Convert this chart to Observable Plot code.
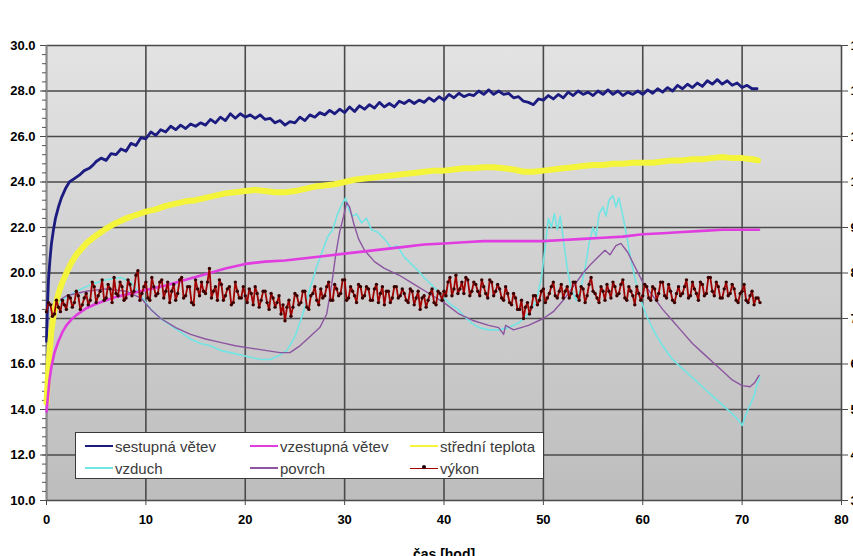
<!DOCTYPE html>
<html><head><meta charset="utf-8">
<script src="https://cdn.jsdelivr.net/npm/d3@7"></script>
<script src="https://cdn.jsdelivr.net/npm/@observablehq/plot@0.6"></script>
<style>
body{margin:0;background:#fff;}
#wrap{position:relative;width:853px;height:556px;overflow:hidden;}
.legend{position:absolute;left:75px;top:432px;width:467px;height:45px;background:#fff;border:1.5px solid #3a3a3a;font-family:"Liberation Sans",Arial,sans-serif;font-size:15px;color:#3a3a3a;}
.item{position:absolute;display:flex;align-items:center;white-space:nowrap;height:18px;}
.sw{width:28px;height:0;border-top:2.5px solid;margin-right:2px;position:relative;}
.dot{position:absolute;left:12px;top:-3.5px;width:4px;height:4px;border-radius:50%;background:#200000;}
</style>
</head><body>
<div id="wrap"></div>
<script>
// ---- data ----
const xTicks = [0, 10, 20, 30, 40, 50, 60, 70, 80];
const yTicks = [10, 12, 14, 16, 18, 20, 22, 24, 26, 28, 30];
const powerTicks = [3, 4, 5, 6, 7, 8, 9, 10, 11, 12, 13];

// sestupná větev: early part as [hod, °C]
const sestupnaEarly = [[0,17.0],[0.1,18.6],[0.2,19.7],[0.35,20.6],[0.5,21.3],[0.7,21.9],[0.9,22.4],[1.2,22.9],[1.5,23.3],[1.9,23.7],[2.3,24.0],[2.8,24.15],[3.3,24.3],[3.8,24.5],[4.3,24.6],[4.7,24.75]];
// sestupná větev: from 5 h, every 0.5 h
const sestupnaStart = 5, sestupnaStep = 0.5;
const sestupnaVals = [24.9,25.05,24.95,25.25,25.2,25.45,25.35,25.7,25.6,25.95,25.9,26.2,26.05,26.3,26.2,26.45,26.3,26.5,26.35,26.55,26.45,26.6,26.5,26.75,26.6,26.85,26.7,27.0,26.8,27.0,26.85,26.95,26.8,26.95,26.75,26.8,26.6,26.7,26.5,26.65,26.6,26.85,26.7,26.95,26.85,27.05,26.95,27.15,27.0,27.2,27.05,27.3,27.1,27.35,27.2,27.4,27.25,27.5,27.3,27.45,27.3,27.55,27.45,27.6,27.45,27.6,27.5,27.7,27.55,27.75,27.6,27.85,27.7,27.9,27.75,27.85,27.8,28.0,27.85,28.05,27.85,28.0,27.85,27.9,27.7,27.75,27.55,27.5,27.4,27.65,27.6,27.8,27.65,27.85,27.7,27.95,27.8,28.0,27.85,27.95,27.8,28.0,27.85,28.05,27.85,28.0,27.8,27.95,27.85,28.0,27.85,28.05,27.9,28.1,27.95,28.15,28.0,28.25,28.1,28.3,28.15,28.35,28.2,28.45,28.3,28.5,28.3,28.45,28.25,28.35,28.15,28.25,28.1,28.1];

const vzestupna = [[0,13.9],[0.15,14.6],[0.3,15.3],[0.5,15.9],[0.8,16.5],[1.2,17.0],[1.6,17.4],[2,17.7],[2.5,17.95],[3,18.15],[4,18.45],[5,18.65],[6,18.8],[7,18.95],[8,19.05],[9,19.15],[10,19.25],[12,19.45],[14,19.7],[16,19.95],[18,20.2],[20,20.4],[22,20.5],[24,20.55],[26,20.65],[28,20.75],[30,20.85],[32,20.95],[34,21.05],[36,21.15],[38,21.25],[40,21.3],[42,21.35],[44,21.4],[46,21.4],[48,21.4],[50,21.4],[52,21.45],[54,21.5],[56,21.55],[58,21.6],[60,21.7],[62,21.75],[64,21.8],[66,21.85],[68,21.9],[70,21.9],[71.7,21.9]];

const stredni = [[0,14.3],[0.15,15.5],[0.3,16.5],[0.5,17.5],[0.8,18.4],[1.2,19.1],[1.6,19.6],[2,20.0],[2.5,20.45],[3,20.8],[4,21.3],[5,21.65],[6,21.95],[7,22.2],[8,22.4],[9,22.55],[10,22.7],[11,22.8],[12,22.95],[13,23.05],[14,23.15],[15,23.2],[16,23.3],[17,23.4],[18,23.5],[19,23.55],[20,23.6],[21,23.65],[22,23.6],[23,23.55],[24,23.55],[25,23.6],[26,23.7],[27,23.8],[28,23.85],[29,23.9],[30,24.0],[31,24.1],[32,24.15],[33,24.2],[34,24.25],[35,24.3],[36,24.35],[37,24.4],[38,24.45],[39,24.5],[40,24.5],[41,24.55],[42,24.6],[43,24.6],[44,24.65],[45,24.65],[46,24.6],[47,24.55],[48,24.45],[49,24.45],[50,24.5],[51,24.55],[52,24.6],[53,24.65],[54,24.7],[55,24.75],[56,24.75],[57,24.8],[58,24.8],[59,24.85],[60,24.85],[61,24.85],[62,24.9],[63,24.95],[64,24.95],[65,25.0],[66,25.0],[67,25.05],[68,25.1],[69,25.05],[70,25.05],[71,25.0],[71.6,24.95]];

const vzduch = [[0.5,18.3],[1.5,18.8],[3,19.2],[4.5,19.5],[6,19.7],[7.5,19.8],[8.5,19.6],[9.5,19.0],[10.5,18.4],[11.5,18.0],[12.5,17.7],[13.5,17.4],[14.5,17.1],[15.5,16.9],[16.5,16.8],[17.5,16.6],[18.5,16.5],[19.5,16.4],[20.5,16.3],[21.5,16.2],[22.5,16.2],[23.5,16.4],[24.2,16.6],[25,17.2],[25.8,18.2],[26.5,19.3],[27.2,20.3],[27.8,21.0],[28.3,21.6],[28.8,21.9],[29.3,22.6],[29.7,23.0],[30.1,23.3],[30.4,22.8],[30.8,22.5],[31.2,22.6],[31.7,22.2],[32.2,22.4],[32.7,21.9],[33.3,21.8],[34,21.5],[34.7,21.1],[35.3,21.2],[36,20.7],[36.7,20.4],[37.4,20.1],[38,19.8],[38.7,19.5],[39.4,19.2],[40,18.9],[40.7,18.6],[41.4,18.4],[42,18.1],[42.8,17.8],[43.5,17.6],[44.5,17.5],[45.5,17.5],[46.5,17.6],[47.5,17.8],[48.5,18.2],[49.3,18.8],[49.8,19.8],[50.2,21.2],[50.5,22.4],[50.8,22.0],[51.1,22.6],[51.4,21.9],[51.7,22.5],[52.0,21.5],[52.4,20.2],[52.8,19.3],[53.3,18.8],[53.8,19.4],[54.2,20.2],[54.6,21.3],[55,22.0],[55.3,21.6],[55.6,22.6],[56,22.9],[56.3,22.5],[56.6,23.2],[57,23.4],[57.3,22.9],[57.6,23.3],[58,22.5],[58.4,21.6],[58.8,20.6],[59.3,19.6],[59.8,18.8],[60.5,18.0],[61.3,17.3],[62,16.8],[63,16.2],[64,15.8],[65,15.4],[66,15.0],[67,14.6],[68,14.2],[68.8,13.9],[69.5,13.6],[70,13.3],[70.4,13.8],[70.8,14.2],[71.2,14.6],[71.5,15.1],[71.8,15.4]];

const povrch = [[0.5,18.6],[2,19.0],[4,19.2],[6,19.3],[8,19.2],[9.5,18.9],[10.5,18.4],[11.5,18.0],[13,17.6],[14.5,17.3],[16,17.1],[17.5,16.95],[19,16.8],[20.5,16.7],[22,16.6],[23.5,16.5],[24.5,16.5],[25.5,16.8],[26.5,17.2],[27.5,17.6],[28.2,18.2],[28.7,19.5],[29.1,20.8],[29.5,21.8],[29.9,22.5],[30.2,23.1],[30.5,22.9],[30.9,22.2],[31.4,21.5],[32,21.0],[33,20.5],[34,20.2],[35.5,19.9],[37,19.5],[38.5,19.1],[40,18.7],[41.5,18.2],[43,17.9],[44.5,17.7],[45.5,17.6],[46,17.3],[46.2,17.7],[47,17.5],[48.5,17.7],[50,18.0],[51,18.3],[52,18.8],[53,19.4],[54,20.0],[54.8,20.4],[55.5,20.7],[56.2,21.0],[56.7,20.8],[57.3,21.2],[57.8,21.3],[58.5,20.9],[59.3,20.2],[60,19.6],[61,19.0],[62,18.4],[63,17.9],[64,17.4],[65,16.9],[66,16.5],[67,16.1],[68,15.7],[69,15.3],[70,15.05],[70.8,15.0],[71.3,15.2],[71.7,15.5]];

// výkon (right axis units): samples A at 0, 0.4, 0.8 … h; samples B at 0.2, 0.6, 1.0 … h
const vykonStep = 0.4;
const vykonA = [
7.15,7.3,7.1,7.25,7.4,7.2,7.45,7.35,7.5,7.3,
7.55,7.4,7.7,7.5,7.85,7.45,7.65,7.9,7.5,7.7,
7.45,7.75,7.6,8.05,7.55,7.8,7.4,7.7,7.55,7.85,
7.6,7.35,7.75,7.55,7.9,7.5,7.7,7.3,7.65,7.8,
7.55,8.1,7.6,7.4,7.75,7.5,7.7,7.35,7.6,7.45,
7.5,7.65,7.3,7.55,7.4,7.6,7.2,7.45,7.35,7.1,
6.95,7.4,7.25,7.5,7.35,7.6,7.2,7.55,7.4,7.65,
7.5,7.8,7.4,7.65,7.55,7.85,7.45,7.6,7.35,7.7,
7.5,7.65,7.4,7.75,7.55,7.3,7.6,7.45,7.7,7.5,
7.55,7.35,7.6,7.45,7.2,7.5,7.4,7.65,7.3,7.55,
7.6,7.8,7.5,7.95,7.65,7.55,7.85,7.6,7.75,7.5,
7.7,7.45,7.8,7.6,7.65,7.4,7.55,7.3,7.45,7.2,
7.0,7.35,7.25,7.5,7.4,7.65,7.45,7.7,7.5,7.6,
7.45,7.7,7.55,7.8,7.4,7.65,7.5,7.9,7.55,7.35,
7.6,7.75,7.45,7.7,7.55,7.85,7.4,7.6,7.3,7.55,
7.5,7.7,7.4,7.65,7.55,7.8,7.45,7.6,7.35,7.7,
7.55,7.85,7.5,7.65,7.4,7.75,7.55,7.9,7.5,7.7,
7.45,7.8,7.55,7.65,7.35,7.6,7.4,7.5,7.3,7.45];
const vykonB = [
7.35,7.05,7.4,7.15,7.3,7.5,7.25,7.6,7.2,7.45,
7.3,7.8,7.35,7.6,7.4,7.75,7.35,7.55,7.8,7.4,
7.85,7.5,7.95,7.4,7.7,7.45,7.9,7.5,7.8,7.45,
7.8,7.6,7.4,7.85,7.45,7.7,7.35,7.85,7.5,7.6,
7.8,7.45,7.7,7.85,7.4,7.65,7.3,7.8,7.45,7.7,
7.35,7.55,7.7,7.25,7.6,7.35,7.55,7.25,7.5,7.3,
7.25,7.05,7.55,7.3,7.6,7.25,7.5,7.7,7.3,7.45,
7.7,7.4,7.75,7.5,7.85,7.4,7.7,7.5,7.75,7.45,
7.7,7.4,7.65,7.35,7.7,7.6,7.35,7.7,7.45,7.65,
7.4,7.65,7.3,7.6,7.45,7.25,7.55,7.35,7.6,7.4,
7.5,7.9,7.65,7.55,7.8,7.9,7.5,7.8,7.6,7.85,
7.55,7.85,7.5,7.75,7.45,7.7,7.35,7.55,7.2,7.4,
7.25,7.1,7.5,7.3,7.6,7.35,7.55,7.8,7.45,7.75,
7.6,7.45,7.8,7.5,7.7,7.35,7.75,7.6,7.45,7.7,
7.4,7.6,7.8,7.5,7.75,7.45,7.7,7.5,7.7,7.4,
7.75,7.45,7.7,7.4,7.8,7.5,7.75,7.4,7.55,7.5,
7.7,7.45,7.8,7.55,7.8,7.5,7.9,7.6,7.8,7.45,
7.65,7.5,7.75,7.4,7.55,7.75,7.35,7.6,7.45,7.35];

// ---- build ----
const sestupna = sestupnaEarly.concat(sestupnaVals.map((v, i) => [sestupnaStart + i * sestupnaStep, v]));
const vykon = vykonA.flatMap((a, i) => [[i * vykonStep, a], [i * vykonStep + vykonStep / 2, vykonB[i]]]);
const powerToTemp = p => 2 * p + 4;   // right axis 3..13 ↔ left axis 10..30
const tempToPower = t => (t - 4) / 2;
const minorTicks = d3.range(10, 30.001, 0.4).map(v => +v.toFixed(1));

const F = "'Liberation Sans', Arial, sans-serif";
const plot = Plot.plot({
  width: 853, height: 556,
  marginLeft: 46, marginRight: 12, marginTop: 45, marginBottom: 56,
  x: {domain: [0, 80]},
  y: {domain: [10, 30]},
  style: {fontFamily: F, fontSize: "13px", fontWeight: "bold", color: "#000", background: "transparent"},
  marks: [
    Plot.frame({fill: "url(#bg)", stroke: null}),
    Plot.gridY(yTicks, {stroke: "#4a4a4a", strokeOpacity: 1, strokeWidth: 1.6}),
    Plot.gridX(xTicks, {stroke: "#4a4a4a", strokeOpacity: 1, strokeWidth: 1.6}),
    Plot.ruleX([0], {stroke: "#8a8a8a", strokeWidth: 1.5}),
    Plot.axisY(minorTicks, {anchor: "left", tickSize: 4, stroke: "#555", tickFormat: () => "", label: null}),
    Plot.axisY(yTicks, {anchor: "left", tickSize: 6, tickPadding: 5, stroke: "#4a4a4a", tickFormat: d => d.toFixed(1), label: null}),
    Plot.axisY(powerTicks.map(powerToTemp), {anchor: "right", tickSize: 6, tickPadding: 3, stroke: "#4a4a4a", tickFormat: d => String(tempToPower(d)), label: null}),
    Plot.axisX(xTicks, {anchor: "bottom", tickSize: 5, tickPadding: 9, stroke: "#4a4a4a", label: null}),
    Plot.line(vzduch, {x: "0", y: "1", stroke: "#72e4e4", strokeWidth: 1.6}),
    Plot.line(povrch, {x: "0", y: "1", stroke: "#8c55a0", strokeWidth: 1.4}),
    Plot.line(sestupna, {x: "0", y: "1", stroke: "#1c1c80", strokeWidth: 2.8}),
    Plot.line(stredni, {x: "0", y: "1", stroke: "#f4f43a", strokeWidth: 6}),
    Plot.line(vzestupna, {x: "0", y: "1", stroke: "#e03ce0", strokeWidth: 2.6}),
    Plot.line(vykon, {x: "0", y: d => powerToTemp(d[1]), stroke: "#a00000", strokeWidth: 1.8}),
    Plot.dot(vykon, {x: "0", y: d => powerToTemp(d[1]), r: 1.7, fill: "#3a0000", stroke: null}),
    Plot.text(["čas [hod]"], {frameAnchor: "bottom", dy: 49, lineAnchor: "top", fontSize: 14, fontWeight: "bold", fill: "#000"})
  ]
});
const defs = document.createElementNS("http://www.w3.org/2000/svg", "defs");
defs.innerHTML = '<linearGradient id="bg" x1="0" y1="0" x2="0" y2="1"><stop offset="0" stop-color="#e3e3e3"/><stop offset="1" stop-color="#bdbdbd"/></linearGradient>';
plot.insertBefore(defs, plot.firstChild);
const wrap = document.getElementById("wrap");
wrap.appendChild(plot);

// legend
const legendItems = [
  {name: "sestupná větev", color: "#1c1c80", col: 0, row: 0},
  {name: "vzestupná větev", color: "#e03ce0", col: 1, row: 0},
  {name: "střední teplota", color: "#f4f43a", col: 2, row: 0},
  {name: "vzduch", color: "#72e4e4", col: 0, row: 1},
  {name: "povrch", color: "#8c55a0", col: 1, row: 1},
  {name: "výkon", color: "#a00000", col: 2, row: 1, marker: true}
];
const colLeft = [9, 174, 334], rowTop = [4, 26];
const lg = document.createElement("div");
lg.className = "legend";
for (const it of legendItems) {
  const d = document.createElement("div");
  d.className = "item";
  d.style.left = colLeft[it.col] + "px";
  d.style.top = rowTop[it.row] + "px";
  const sw = document.createElement("span");
  sw.className = "sw";
  sw.style.borderTopColor = it.color;
  if (it.marker) { sw.style.borderTopWidth = "1.5px"; const m = document.createElement("span"); m.className = "dot"; sw.appendChild(m); }
  const t = document.createElement("span");
  t.textContent = it.name;
  d.appendChild(sw); d.appendChild(t);
  lg.appendChild(d);
}
wrap.appendChild(lg);
</script>
</body></html>
